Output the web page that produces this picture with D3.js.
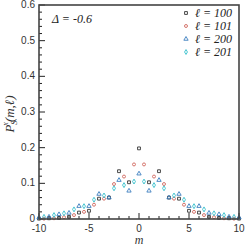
<!DOCTYPE html>
<head>
  <meta charset="utf-8">
  <script src="https://cdn.jsdelivr.net/npm/d3@7"></script>
  <style>
    body { margin:0; background:#fff; }
    svg { display:block; }
  </style>
</head>
<body>
  <script>
    // values
    var mWhole = [-10,-9,-8,-7,-6,-5,-4,-3,-2,-1,0,1,2,3,4,5,6,7,8,9,10];
    var mHalf  = [-9.5,-8.5,-7.5,-6.5,-5.5,-4.5,-3.5,-2.5,-1.5,-0.5,0.5,1.5,2.5,3.5,4.5,5.5,6.5,7.5,8.5,9.5];
    var p100 = [0.001,0.002,0.003,0.006,0.018,0.023,0.057,0.060,0.134,0.103,0.198,0.103,0.134,0.060,0.057,0.023,0.018,0.006,0.003,0.002,0.001];
    var p101 = [0.001,0.002,0.005,0.011,0.020,0.040,0.057,0.098,0.119,0.153,0.153,0.119,0.098,0.057,0.040,0.020,0.011,0.005,0.002,0.001];
    var p200 = [0.004,0.006,0.013,0.017,0.036,0.036,0.070,0.060,0.109,0.079,0.127,0.079,0.109,0.060,0.070,0.036,0.036,0.017,0.013,0.006,0.004];
    var p201 = [0.006,0.011,0.016,0.027,0.036,0.054,0.066,0.086,0.095,0.105,0.105,0.095,0.086,0.066,0.054,0.036,0.027,0.016,0.011,0.006];
    var legendLabels = ["100","101","200","201"];
    var xTicks = [-10,-5,0,5,10];
    var yTicks = [0,0.1,0.2,0.3,0.4,0.5,0.6];

    var width = 249, height = 249;
    var padL = 39, padR = 239, padT = 5, padB = 219;

    var svg = d3.select("body").append("svg")
      .attr("width", width).attr("height", height);

    var x = d3.scaleLinear().domain([-10, 10]).range([padL, padR]);
    var y = d3.scaleLinear().domain([0, 0.6]).range([padB, padT]);

    var series = [
      {m: mWhole, p: p100, color: "#333333", shape: d3.symbolSquare, size: 8},
      {m: mHalf,  p: p101, color: "#d0665e", shape: d3.symbolCircle, size: 7},
      {m: mWhole, p: p200, color: "#3d7fbf", shape: d3.symbolTriangle, size: 8},
      {m: mHalf,  p: p201, color: "#36bfcc", shape: d3.symbolDiamond, size: 7}
    ];

    // ticks, inward
    var ax = svg.append("g").attr("font-family", "Liberation Sans, Arial, sans-serif")
      .attr("font-size", 10).attr("fill", "#333");

    d3.range(-10, 10.01, 1).forEach(function(v) {
      var major = xTicks.indexOf(v) >= 0;
      ax.append("line").attr("x1", x(v)).attr("x2", x(v))
        .attr("y1", padB).attr("y2", padB - (major ? 6 : 3))
        .attr("stroke", "#222").attr("stroke-width", 1);
    });
    d3.range(0, 0.601, 0.02).forEach(function(v) {
      var major = Math.abs(v * 10 - Math.round(v * 10)) < 1e-6;
      ax.append("line").attr("x1", padL).attr("x2", padL + (major ? 6 : 3))
        .attr("y1", y(v)).attr("y2", y(v))
        .attr("stroke", "#222").attr("stroke-width", 1);
    });

    xTicks.forEach(function(v) {
      ax.append("text").attr("x", x(v)).attr("y", padB + 13)
        .attr("text-anchor", "middle").text(v);
    });
    yTicks.forEach(function(v) {
      ax.append("text").attr("x", padL - 4).attr("y", y(v) + 3)
        .attr("text-anchor", "end").text(v === 0 ? "0" : d3.format(".1f")(v));
    });

    // points
    series.forEach(function(s) {
      svg.append("g").selectAll("path")
        .data(s.m.map(function(m, i) { return [m, s.p[i]]; }))
        .enter().append("path")
        .attr("d", d3.symbol().type(s.shape).size(s.size))
        .attr("transform", function(d) { return "translate(" + x(d[0]) + "," + y(d[1]) + ")"; })
        .attr("fill", "none").attr("stroke", s.color).attr("stroke-width", 0.9);
    });

    // frame
    svg.append("rect").attr("x", padL).attr("y", padT)
      .attr("width", padR - padL).attr("height", padB - padT)
      .attr("fill", "none").attr("stroke", "#444").attr("stroke-width", 1.6);

    // legend
    var lg = svg.append("g").attr("font-family", "Liberation Serif, Times New Roman, serif")
      .attr("font-style", "italic").attr("font-size", 12).attr("fill", "#222");
    series.forEach(function(s, i) {
      var ly = 13 + i * 13;
      lg.append("path").attr("d", d3.symbol().type(s.shape).size(s.size))
        .attr("transform", "translate(186," + ly + ")")
        .attr("fill", "none").attr("stroke", s.color).attr("stroke-width", 0.9);
      lg.append("text").attr("x", 195).attr("y", ly + 4)
        .text("\u2113 = " + legendLabels[i]);
    });

    // annotation
    svg.append("text").attr("x", 52).attr("y", 23)
      .attr("font-family", "Liberation Serif, Times New Roman, serif")
      .attr("font-style", "italic").attr("font-size", 12).attr("fill", "#222")
      .text("\u0394 = -0.6");

    // axis titles
    svg.append("text").attr("x", x(0)).attr("y", 244)
      .attr("text-anchor", "middle")
      .attr("font-family", "Liberation Serif, Times New Roman, serif")
      .attr("font-style", "italic").attr("font-size", 12).attr("fill", "#333")
      .text("m");

    var yl = svg.append("text")
      .attr("transform", "translate(14,114) rotate(-90)")
      .attr("text-anchor", "middle")
      .attr("font-family", "Liberation Serif, Times New Roman, serif")
      .attr("font-style", "italic").attr("font-size", 13).attr("fill", "#333");
    yl.append("tspan").text("P");
    yl.append("tspan").attr("font-size", 8).attr("dy", 3).text("S");
    yl.append("tspan").attr("font-size", 8).attr("dx", -5).attr("dy", -9).text("x");
    yl.append("tspan").attr("dy", 6).text("(m,\u2113)");
  </script>
</body>
</html>
